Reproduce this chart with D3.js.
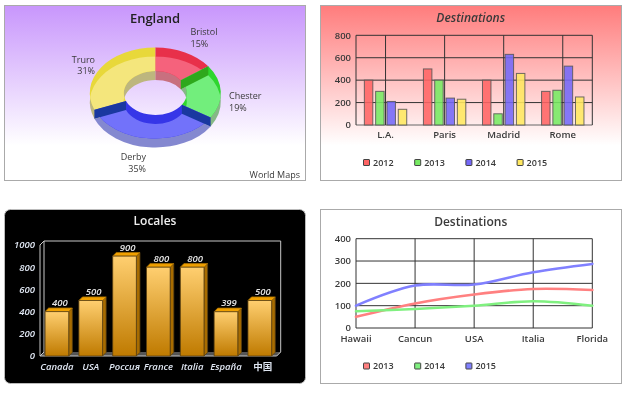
<!DOCTYPE html>
<html><head><meta charset="utf-8">
<script src="https://cdn.jsdelivr.net/npm/d3@7"></script>
<style>
html,body{margin:0;padding:0;background:#fff}
svg{display:block;filter:blur(0.35px)}
text{font-family:"Open Sans","Noto Sans CJK SC",sans-serif}
</style></head><body>
<svg id="c" width="630" height="394"></svg>
<script>
// Data
const pieTitle = "England";
const pieCategories = ["Bristol","Chester","Derby","Truro"];
const pieValues = [15,19,35,31];
const pieNote = "World Maps";

const barTitle = "Destinations";
const barCategories = ["L.A.","Paris","Madrid","Rome"];
const barSeriesNames = ["2012","2013","2014","2015"];
const bar2012 = [400,500,400,300];
const bar2013 = [300,400,100,310];
const bar2014 = [210,240,630,525];
const bar2015 = [140,230,460,250];
const barTicks = [0,200,400,600,800];

const localeTitle = "Locales";
const localeCategories = ["Canada","USA","Россия","France","Italia","España","中国"];
const localeValues = [400,500,900,800,800,399,500];
const localeTicks = [0,200,400,600,800,1000];

const lineTitle = "Destinations";
const lineCategories = ["Hawaii","Cancun","USA","Italia","Florida"];
const lineSeriesNames = ["2013","2014","2015"];
const line2013 = [50,110,150,175,170];
const line2014 = [75,85,100,120,100];
const line2015 = [100,190,195,250,287];
const lineTicks = [0,100,200,300,400];

const svg = d3.select("#c");
const defs = svg.append("defs");
function grad(id,stops){
  const g = defs.append("linearGradient").attr("id",id).attr("x1",0).attr("y1",0).attr("x2",0).attr("y2",1);
  stops.forEach(s=>g.append("stop").attr("offset",s[0]).attr("stop-color",s[1]));
}
grad("bgPurple",[[0,"#c896fc"],[.8,"#ffffff"],[1,"#ffffff"]]);
grad("bgRed",[[0,"#ff7c7c"],[.8,"#ffffff"],[1,"#ffffff"]]);
grad("barGold",[[0,"#ffcf70"],[1,"#bf7a00"]]);
const INK = "#3a3a3a";

function label(g,x,y,t,o={}){
  return g.append("text").attr("x",x).attr("y",y).attr("dy","0.35em")
    .attr("text-anchor",o.anchor||"start").attr("font-size",o.size||9)
    .attr("font-weight",o.weight||500).attr("font-style",o.style||"normal")
    .attr("fill",o.fill||INK).text(t);
}
function legend(names,colors,y){
  const lx = d3.scaleLinear().domain([0,1]).range([363.5,414.7]);
  names.forEach((n,i)=>{
    svg.append("rect").attr("x",lx(i)).attr("y",y-3).attr("width",6).attr("height",6)
      .attr("rx",.5).attr("fill",colors[i]).attr("stroke","#444").attr("stroke-width",1);
    label(svg,lx(i)+9.5,y,n,{size:9,weight:600});
  });
}

// ---------- Panel 1: 3D donut ----------
svg.append("rect").attr("x",4.5).attr("y",5.5).attr("width",301).attr("height",175)
  .attr("fill","url(#bgPurple)").attr("stroke","#aaa");
label(svg,155,18,pieTitle,{anchor:"middle",size:13,weight:600,fill:"#222"});
label(svg,300,175,pieNote,{anchor:"end",size:9});

const deep  = ["#e8304a","#2ed62e","#3636e8","#e8d83a"];
const light = ["#f5627c","#72ee7c","#7272fa","#f4e67c"];
const dim   = ["#c8707f","#86b886","#8488d0","#bdb67e"];
const walls = ["#a82030","#2ea81c","#1a38a0","#a89820"];
const k = 45.5/65.5, rO = 65.5, rI = 31.5, depth = 9/k;
const arcs = d3.pie().sort(null).value(d=>d)(pieValues);
const arc = d3.arc().innerRadius(rI).outerRadius(rO);
const dn = svg.append("g").attr("transform",`translate(155.3,93) scale(1,${k})`);
const clip = dn.append("clipPath").attr("id","lowerRing");
clip.selectAll("path").data(arcs).join("path").attr("d",arc).attr("transform",`translate(0,${depth})`);
dn.append("g").attr("transform",`translate(0,${depth})`).selectAll("path").data(arcs).join("path")
  .attr("d",arc).attr("fill",d=>dim[d.index]);
dn.append("g").selectAll("path").data(arcs).join("path").attr("d",arc).attr("fill",d=>deep[d.index]);
dn.append("g").attr("clip-path","url(#lowerRing)").selectAll("path").data(arcs).join("path")
  .attr("d",arc).attr("fill",d=>light[d.index]);
arcs.forEach((d,i)=>{
  const n = arcs[(i+1)%arcs.length];
  const owner = pieValues[i] > pieValues[n.index] ? i : n.index;
  const a = d.endAngle;
  const p = d3.pointRadial;
  const pts = [p(a,rO),p(a,rI),p(a,rI).map((v,j)=>j?v+depth:v),p(a,rO).map((v,j)=>j?v+depth:v)];
  dn.append("path").attr("d",d3.line()(pts)+"Z").attr("fill",walls[owner]);
});
const pieLabels = [[190.5,32,"start"],[229,96,"start"],[146,157,"end"],[95,59.5,"end"]];
pieCategories.forEach((c,i)=>{
  const [x,y,anchor] = pieLabels[i];
  label(svg,x,y,c,{anchor});
  label(svg,x,y+11.8,pieValues[i]+"%",{anchor});
});

// ---------- Panel 2: grouped bars ----------
svg.append("rect").attr("x",320.5).attr("y",5.5).attr("width",301).attr("height",175)
  .attr("fill","url(#bgRed)").attr("stroke","#aaa");
label(svg,470.7,18,barTitle,{anchor:"middle",size:12,weight:600,style:"italic"});
const bx = d3.scaleBand().domain(barCategories).range([356,592.3]);
const by = d3.scaleLinear().domain([0,800]).range([125,35.3]);
const bs = d3.scaleBand().domain(barSeriesNames).range([0,42.4]).paddingInner(.25).paddingOuter(0);
const barColors = ["#ff6464","#76ea62","#7468f8","#ffe860"];
const barSeries = [bar2012,bar2013,bar2014,bar2015];
const gridCol = "#333";
const gb2 = svg.append("g").attr("fill","none").attr("stroke",gridCol).attr("stroke-width",1);
barTicks.forEach(t=>gb2.append("line").attr("x1",356).attr("x2",592.3).attr("y1",by(t)).attr("y2",by(t))
  .attr("stroke",t===0?"#666":gridCol));
barCategories.forEach(c=>{const x=bx(c)+bx.bandwidth()/2;
  gb2.append("line").attr("x1",x).attr("x2",x).attr("y1",by(800)).attr("y2",by(0));});
gb2.append("line").attr("x1",356).attr("x2",356).attr("y1",by(800)).attr("y2",by(0));
gb2.append("line").attr("x1",592.3).attr("x2",592.3).attr("y1",by(800)).attr("y2",by(0));
barSeries.forEach((vals,s)=>{
  svg.append("g").selectAll("rect").data(vals).join("rect")
    .attr("x",(d,i)=>bx(barCategories[i])+bx.bandwidth()/2-21.2+bs(barSeriesNames[s]))
    .attr("y",d=>by(d)).attr("width",bs.bandwidth()).attr("height",d=>by(0)-by(d))
    .attr("fill",barColors[s]).attr("fill-opacity",.88).attr("stroke","#555").attr("stroke-opacity",.85);
});
barTicks.forEach(t=>label(svg,351,by(t),t,{anchor:"end",size:9.5,weight:600}));
barCategories.forEach(c=>label(svg,bx(c)+bx.bandwidth()/2,135,c,{anchor:"middle",size:9.5,weight:600}));
legend(barSeriesNames,barColors,162.5);

// ---------- Panel 3: 3D gold bars ----------
svg.append("rect").attr("x",4.5).attr("y",209.5).attr("width",301).attr("height",174).attr("rx",6)
  .attr("fill","#000").attr("stroke","#bbb");
label(svg,155,221,localeTitle,{anchor:"middle",size:12,weight:600,fill:"#eee"});
const lx = d3.scaleBand().domain(localeCategories).range([40,276.7]).paddingInner(.3).paddingOuter(.15);
const ly = d3.scaleLinear().domain([0,1000]).range([356,245]);
const ox = 4, oy = 4, frame = "#c8c8c8";
const f = svg.append("g");
f.append("path").attr("d",d3.line()([[40,ly(0)],[276.7,ly(0)],[276.7+ox,ly(0)-oy],[40+ox,ly(0)-oy]])+"Z").attr("fill","#555");
f.append("path").attr("fill","none").attr("stroke",frame)
  .attr("d",d3.line()([[40,ly(0)],[40,ly(1000)],[40+ox,ly(1000)-oy],[276.7+ox,ly(1000)-oy],[276.7+ox,ly(0)-oy],[276.7,ly(0)],[40,ly(0)]]));
f.append("path").attr("fill","none").attr("stroke",frame).attr("d",d3.line()([[40+ox,ly(1000)-oy],[40+ox,ly(0)-oy],[40,ly(0)]]));
localeValues.forEach((v,i)=>{
  const x = lx(localeCategories[i]), w = lx.bandwidth(), y = ly(v), b = ly(0), d = 3.6;
  const g = svg.append("g").attr("stroke","#5a4010").attr("stroke-width",.8).attr("stroke-linejoin","round");
  g.append("path").attr("d",d3.line()([[x+w,y],[x+w+d,y-d],[x+w+d,b-d],[x+w,b]])+"Z").attr("fill","#a86c00");
  g.append("path").attr("d",d3.line()([[x,y],[x+d,y-d],[x+w+d,y-d],[x+w,y]])+"Z").attr("fill","#f0a000").attr("stroke","#a87000");
  g.append("rect").attr("x",x).attr("y",y).attr("width",w).attr("height",b-y).attr("fill","url(#barGold)");
  label(svg,x+w/2+3,y-8.8,v,{anchor:"middle",size:9.5,style:"italic",weight:600,fill:"#e4e4e4"});
  const isCJK = /[\u4e00-\u9fff]/.test(localeCategories[i]);
  label(svg,x+w/2+(isCJK?3:0),366.3,localeCategories[i],{anchor:"middle",size:9.5,style:isCJK?"normal":"italic",weight:600,fill:"#dfe6f2"});
});
localeTicks.forEach(t=>label(svg,35,ly(t),t,{anchor:"end",size:9.5,style:"italic",weight:600,fill:"#dfe6f2"}));

// ---------- Panel 4: lines ----------
svg.append("rect").attr("x",320.5).attr("y",209.5).attr("width",301).attr("height",174)
  .attr("fill","#fff").attr("stroke","#aaa");
label(svg,470.7,221.5,lineTitle,{anchor:"middle",size:12,weight:600});
const px = d3.scalePoint().domain(lineCategories).range([356,592.3]);
const py = d3.scaleLinear().domain([0,400]).range([328,238.7]);
const g4 = svg.append("g").attr("stroke",gridCol).attr("stroke-width",1);
lineTicks.forEach(t=>g4.append("line").attr("x1",356).attr("x2",592.3).attr("y1",py(t)).attr("y2",py(t)));
lineCategories.forEach(c=>g4.append("line").attr("x1",px(c)).attr("x2",px(c)).attr("y1",py(400)).attr("y2",py(0)));
const lineColors = ["#ff8080","#80f080","#8080ff"];
const liner = d3.line().x((d,i)=>px(lineCategories[i])).y(d=>py(d)).curve(d3.curveCatmullRom.alpha(.5));
[line2013,line2014,line2015].forEach((vals,s)=>{
  svg.append("path").attr("d",liner(vals)).attr("fill","none").attr("stroke",lineColors[s]).attr("stroke-width",2.6).attr("stroke-linecap","round");
});
lineTicks.forEach(t=>label(svg,351,py(t),t,{anchor:"end",size:9.5,weight:600}));
lineCategories.forEach(c=>label(svg,px(c),338.8,c,{anchor:"middle",size:9.5,weight:600}));
legend(lineSeriesNames,lineColors,366);
</script>
</body></html>
